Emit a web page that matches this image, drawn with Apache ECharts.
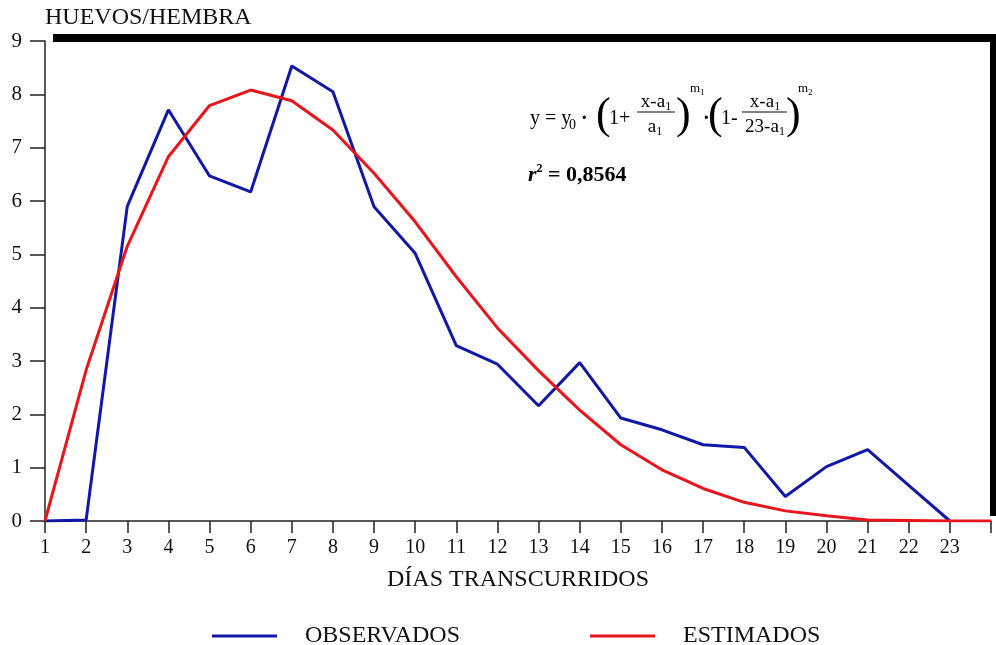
<!DOCTYPE html>
<html lang="es">
<head>
<meta charset="UTF-8">
<title>Huevos por hembra</title>
<style>
    html, body { margin: 0; padding: 0; background: #fff; }
    #grafico { width: 996px; height: 645px; }
</style>
<script src="https://cdn.jsdelivr.net/npm/echarts@6/dist/echarts.min.js"></script>
</head>
<body>
<div id="grafico"></div>
<script>
    // datos
    var dias = [1, 2, 3, 4, 5, 6, 7, 8, 9, 10, 11, 12, 13, 14, 15, 16, 17, 18, 19, 20, 21, 22, 23, 24];
    var observados = [0, 0.02, 5.9, 7.71, 6.47, 6.17, 8.53, 8.05, 5.89, 5.02, 3.29, 2.94, 2.16, 2.97,
        1.93, 1.71, 1.43, 1.38, 0.46, 1.02, 1.34, 0.67, 0];
    var estimados = [0, 2.83, 5.15, 6.83, 7.79, 8.08, 7.88, 7.33, 6.52, 5.61, 4.58, 3.62, 2.82, 2.08,
        1.43, 0.96, 0.61, 0.35, 0.19, 0.1, 0.02, 0.01, 0, 0];
    var ultimoDia = 23;

    var fuente = "'Liberation Serif', 'Times New Roman', serif";
    var azul = '#1018a8';
    var rojo = '#e8151b';

    // pares [x, y]
    var obsPares = [];
    for (var i = 0; i < observados.length; i++) {
        obsPares.push([dias[i], observados[i]]);
    }
    var estPares = [];
    for (var i = 0; i < estimados.length; i++) {
        estPares.push([dias[i], estimados[i]]);
    }

    // ---- piezas de la formula ----
    var dy = 3; // desplazamiento vertical de la formula
    var ctx = document.createElement('canvas').getContext('2d');
    function ancho(s, size) {
        ctx.font = size + 'px ' + fuente;
        return ctx.measureText(s).width;
    }
    function txt(x, y, s, size, extra) {
        return {
            type: 'text', x: x, y: y + dy, z: 10,
            style: {
                text: s,
                font: (extra || '') + ' ' + size + 'px ' + fuente,
                fill: '#000',
                align: 'left',
                verticalAlign: 'middle'
            }
        };
    }
    function raya(x1, y1, x2, y2) {
        return {
            type: 'line', z: 10,
            shape: {x1: x1, y1: y1 + dy, x2: x2, y2: y2 + dy},
            style: {stroke: '#000', lineWidth: 1}
        };
    }
    // texto con subindice, centrado en cx
    function conSub(cx, y, base, sub) {
        var w1 = ancho(base, 19), w2 = ancho(sub, 12);
        var x0 = cx - (w1 + w2) / 2;
        return [txt(x0, y, base, 19), txt(x0 + w1, y + 5, sub, 12)];
    }

    var formula = [].concat(
        [txt(530, 116, 'y = y', 20),
         txt(569, 122, '0', 14),
         txt(581, 116, '·', 20, 'bold'),
         txt(596, 113, '(', 44),
         txt(609, 116, '1+', 20)],
        conSub(656, 99, 'x-a', '1'),
        [raya(637, 109, 675, 109)],
        conSub(655, 124, 'a', '1'),
        [txt(676, 113, ')', 44),
         txt(690, 86, 'm', 13),
         txt(700, 90, '1', 9),
         txt(703, 116, '·', 20, 'bold'),
         txt(708, 113, '(', 44),
         txt(721, 116, '1-', 20)],
        conSub(765, 99, 'x-a', '1'),
        [raya(742, 109, 787, 109)],
        conSub(765, 124, '23-a', '1'),
        [txt(786, 113, ')', 44),
         txt(798, 86, 'm', 13),
         txt(808, 90, '2', 9)],
        [{
            type: 'text', x: 528, y: 175, z: 10,
            style: {
                text: '{r|r}{s|2}{n| = 0,8564}',
                verticalAlign: 'middle',
                rich: {
                    r: {font: 'italic bold 22px ' + fuente, fill: '#000', lineHeight: 24},
                    s: {font: 'bold 12px ' + fuente, fill: '#000', lineHeight: 24, verticalAlign: 'top'},
                    n: {font: 'bold 22px ' + fuente, fill: '#000', lineHeight: 24}
                }
            }
        },
        // marco negro superior y derecho
        {type: 'rect', z: 5, shape: {x: 53, y: 34, width: 944, height: 8}, style: {fill: '#000'}},
        {type: 'rect', z: 5, shape: {x: 990, y: 34, width: 7, height: 482}, style: {fill: '#000'}}]
    );

    var chart = echarts.init(document.getElementById('grafico'));
    var option = {
        backgroundColor: '#fff',
        animation: false,
        textStyle: {fontFamily: fuente, color: '#111'},
        grid: {left: 45, right: 5, top: 41, bottom: 124},
        legend: {
            left: 207, top: 619,
            icon: 'rect',
            itemWidth: 65, itemHeight: 3,
            itemGap: 130,
            textStyle: {fontFamily: fuente, fontSize: 24, color: '#111', padding: [0, 0, 0, 23]},
            data: ['OBSERVADOS', 'ESTIMADOS']
        },
        xAxis: {
            type: 'value',
            min: 1, max: 24, interval: 1,
            name: 'DÍAS TRANSCURRIDOS',
            nameLocation: 'middle',
            nameGap: 59,
            nameTextStyle: {fontFamily: fuente, fontSize: 24, color: '#111', verticalAlign: 'middle'},
            splitLine: {show: false},
            axisLine: {lineStyle: {color: '#222', width: 1.5}},
            axisTick: {length: 12, lineStyle: {color: '#222', width: 1.5}},
            axisLabel: {
                margin: 17, fontSize: 20, color: '#111', fontFamily: fuente,
                formatter: function (v) { return v <= ultimoDia ? String(v) : ''; }
            }
        },
        yAxis: {
            type: 'value',
            min: 0, max: 9, interval: 1,
            name: 'HUEVOS/HEMBRA',
            nameLocation: 'end',
            nameGap: 23,
            nameTextStyle: {fontFamily: fuente, fontSize: 24, color: '#111', align: 'left', verticalAlign: 'middle'},
            splitLine: {show: false},
            axisLine: {show: true, lineStyle: {color: '#222', width: 1.5}},
            axisTick: {show: true, length: 15, lineStyle: {color: '#222', width: 1.5}},
            axisLabel: {margin: 23, fontSize: 21, color: '#111', fontFamily: fuente}
        },
        series: [
            {
                name: 'OBSERVADOS',
                type: 'line',
                data: obsPares,
                symbol: 'none',
                z: 3,
                lineStyle: {color: azul, width: 3},
                itemStyle: {color: azul}
            },
            {
                name: 'ESTIMADOS',
                type: 'line',
                data: estPares,
                symbol: 'none',
                z: 4,
                lineStyle: {color: rojo, width: 3},
                itemStyle: {color: rojo}
            }
        ],
        graphic: formula
    };
    chart.setOption(option);
</script>
</body>
</html>
